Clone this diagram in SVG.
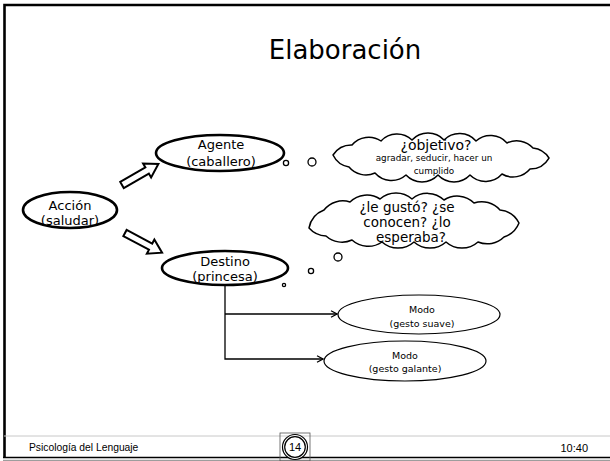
<svg xmlns="http://www.w3.org/2000/svg" width="610" height="461" viewBox="0 0 610 461">
<defs>
<style>
.t{font-family:"DejaVu Sans",Verdana,sans-serif;fill:#000;text-anchor:middle}
.f{font-family:"Liberation Sans",Arial,sans-serif;fill:#000}
.main{fill:#fff;stroke:#000;stroke-width:2.6}
.thin{fill:#fff;stroke:#000;stroke-width:1.2}
.cloud{fill:#fff;stroke:#000;stroke-width:1.5;stroke-linejoin:round}
.bub{fill:#fff;stroke:#000;stroke-width:1.3}
.ln{fill:none;stroke:#000;stroke-width:1.3}
.blk{fill:#fff;stroke:#000;stroke-width:2;stroke-linejoin:miter}
</style>
<marker id="oa" markerWidth="8" markerHeight="8" refX="7" refY="4" orient="auto" markerUnits="userSpaceOnUse">
<path d="M1,0.8 L7,4 L1,7.2" fill="none" stroke="#000" stroke-width="1.2"/>
</marker>
</defs>
<rect width="610" height="461" fill="#fff"/>
<!-- frame -->
<path d="M614,5 L4.5,5 L4.5,457" fill="none" stroke="#000" stroke-width="2.6"/>
<line x1="4" y1="436" x2="610" y2="436" stroke="#c8c8c8" stroke-width="1"/>
<line x1="3" y1="457.5" x2="610" y2="457.5" stroke="#000" stroke-width="1.5"/>
<line x1="3" y1="460.3" x2="610" y2="460.3" stroke="#666" stroke-width="0.8"/>
<text x="345" y="59" class="t" font-size="26">Elaboración</text>

<g id="connectors">
<polygon class="blk" points="0,-3.5 29,-3.5 29,-8 42,0 29,8 29,3.5 0,3.5" transform="translate(122,185) rotate(-30)"/>
<polygon class="blk" points="0,-3.5 29,-3.5 29,-8 42,0 29,8 29,3.5 0,3.5" transform="translate(125,233) rotate(28)"/>
<path class="ln" d="M225,285 L225,359 L323,359" marker-end="url(#oa)"/>
<path class="ln" d="M225,314 L337,314" marker-end="url(#oa)"/>
<circle class="bub" cx="263" cy="164" r="1.6"/>
<circle class="bub" cx="286" cy="163" r="2.6"/>
<circle class="bub" cx="312" cy="162" r="4"/>
<circle class="bub" cx="284" cy="285" r="1.6"/>
<circle class="bub" cx="311" cy="271" r="2.6"/>
<circle class="bub" cx="338" cy="257" r="4"/>
</g>

<g id="accion">
<ellipse class="main" cx="70" cy="210" rx="47" ry="18"/>
<text x="70" y="210" class="t" font-size="13">Acción</text>
<text x="70" y="225" class="t" font-size="13">(saludar)</text>
</g>
<g id="agente">
<ellipse class="main" cx="220" cy="153" rx="64" ry="18"/>
<text x="221" y="149" class="t" font-size="13">Agente</text>
<text x="221" y="166" class="t" font-size="13">(caballero)</text>
</g>
<g id="destino">
<ellipse class="main" cx="225" cy="268" rx="63" ry="17"/>
<text x="225" y="266" class="t" font-size="13">Destino</text>
<text x="225" y="281" class="t" font-size="13">(princesa)</text>
</g>
<g id="modo1">
<ellipse class="thin" cx="419" cy="314.5" rx="81" ry="19.5"/>
<text x="422" y="312.5" class="t" font-size="9.5">Modo</text>
<text x="422" y="326.5" class="t" font-size="9.5">(gesto suave)</text>
</g>
<g id="modo2">
<ellipse class="thin" cx="405" cy="361" rx="81" ry="20"/>
<text x="405" y="359" class="t" font-size="9.5">Modo</text>
<text x="405" y="372" class="t" font-size="9.5">(gesto galante)</text>
</g>
<g id="cloud1">
<path class="cloud" d="M333,155 A22,22 0 0 1 352,145 A22,22 0 0 1 381,141 A22,22 0 0 1 412,140 A22,22 0 0 1 444,140 A22,22 0 0 1 476,141 A22,22 0 0 1 507,143 A22,22 0 0 1 533,148 A22,22 0 0 1 549,158 A22,22 0 0 1 530,169 A22,22 0 0 1 502,174 A22,22 0 0 1 470,175 A22,22 0 0 1 438,175 A22,22 0 0 1 406,175 A22,22 0 0 1 375,173 A22,22 0 0 1 349,167 A22,22 0 0 1 333,155 Z"/>
<text x="436" y="150" class="t" font-size="14">¿objetivo?</text>
<text x="434" y="161" class="t" font-size="8.8">agradar, seducir, hacer un</text>
<text x="434" y="174" class="t" font-size="8.8">cumplido</text>
</g>
<g id="cloud2">
<path class="cloud" d="M309,228 A24,24 0 0 1 324,210 A24,24 0 0 1 350,202 A24,24 0 0 1 380,199 A24,24 0 0 1 412,199 A24,24 0 0 1 444,200 A24,24 0 0 1 474,203 A24,24 0 0 1 500,210 A24,24 0 0 1 519,223 A24,24 0 0 1 504,237 A24,24 0 0 1 478,242 A24,24 0 0 1 446,242 A24,24 0 0 1 414,242 A24,24 0 0 1 382,242 A24,24 0 0 1 352,240 A24,24 0 0 1 326,236 A24,24 0 0 1 309,228 Z"/>
<text x="407" y="212" class="t" font-size="13.5">¿le gustó? ¿se</text>
<text x="407" y="226.5" class="t" font-size="13.5">conocen? ¿lo</text>
<text x="411" y="242" class="t" font-size="13.5">esperaba?</text>
</g>

<g id="footer">
<text x="29" y="451" class="f" font-size="10.3">Psicología del  Lenguaje</text>
<text x="588" y="452" class="f" font-size="11" text-anchor="end">10:40</text>
<rect x="280" y="433" width="30" height="28" fill="none" stroke="#555" stroke-width="0.8"/>
<circle cx="295" cy="447" r="12.5" fill="#fff" stroke="#000" stroke-width="1.2"/>
<circle cx="295" cy="447" r="10.3" fill="none" stroke="#000" stroke-width="1.2"/>
<text x="295" y="451" class="f" font-size="11" text-anchor="middle">14</text>
</g>
</svg>
